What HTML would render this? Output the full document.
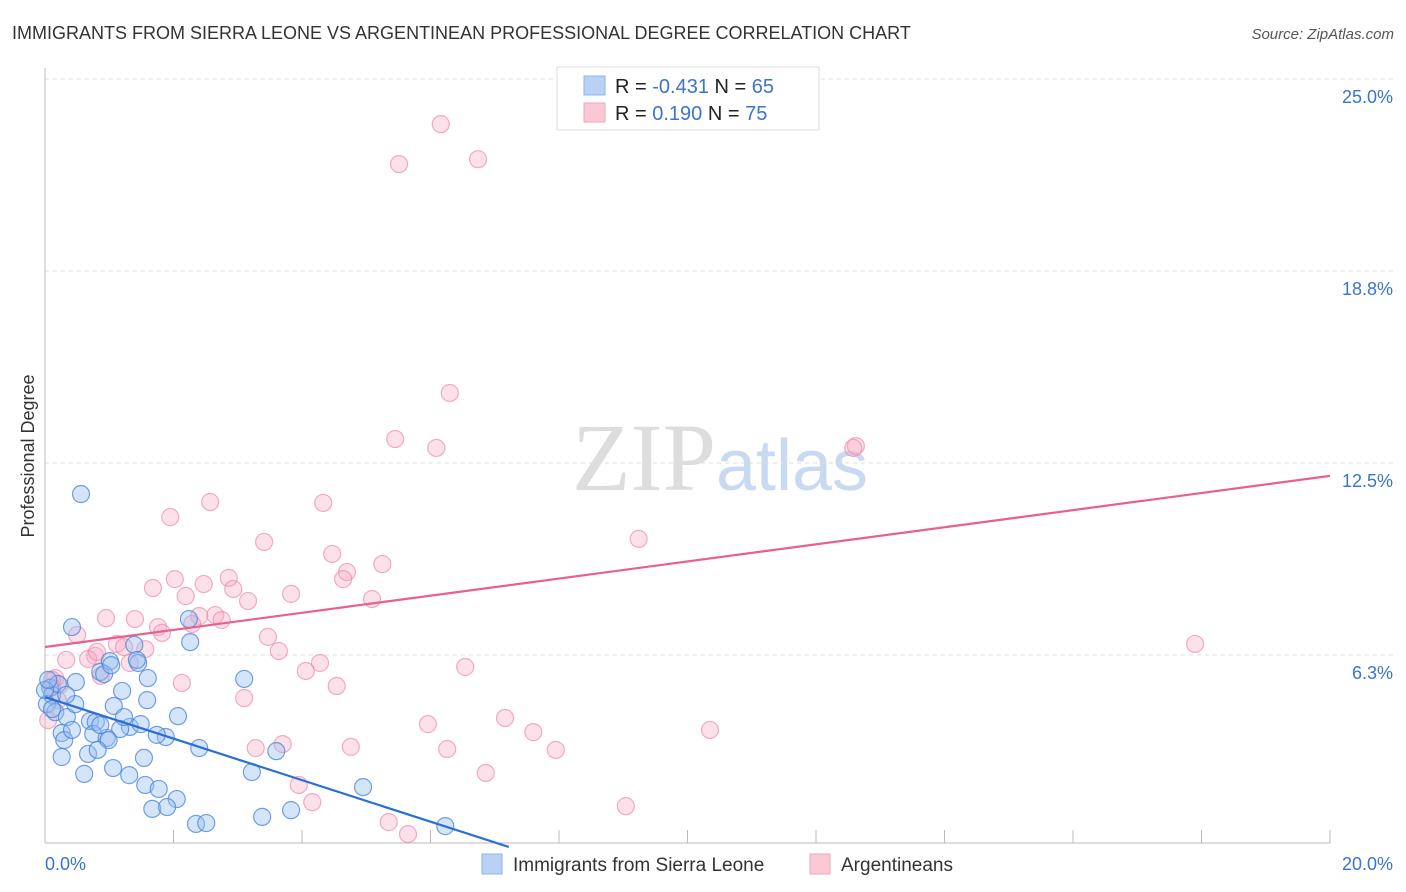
<!DOCTYPE html>
<html><head><meta charset="utf-8"><style>
body{margin:0;background:#fff;font-family:"Liberation Sans",sans-serif}
svg{display:block}
</style></head><body>
<svg id="chart" width="1406" height="892">
<text x="12" y="39" font-size="18" fill="#333">IMMIGRANTS FROM SIERRA LEONE VS ARGENTINEAN PROFESSIONAL DEGREE CORRELATION CHART</text>
<text x="1394" y="39" font-size="15" fill="#555" font-style="italic" text-anchor="end">Source: ZipAtlas.com</text>
<text x="720" y="490" font-size="96" fill="#ddd" text-anchor="middle" font-family="Liberation Serif">ZIP<tspan fill="#c8daf2" font-family="Liberation Sans" font-size="72">atlas</tspan></text>
<text transform="translate(34,456) rotate(-90)" font-size="18" fill="#333" text-anchor="middle">Professional Degree</text>
<g id="grid"></g><g id="axes"></g><g id="pts"></g><g id="lines"></g>
<g>
<rect x="557" y="67" width="262" height="63" fill="#fff" stroke="#ddd"/>
<rect x="584" y="76" width="21" height="19" fill="#b8d2f6" stroke="#8ab4ec"/>
<rect x="584" y="103" width="21" height="19" fill="#fbc8d6" stroke="#f2a4bc"/>
<text x="615" y="93" font-size="20" fill="#222">R = <tspan fill="#3a74d0">-0.431</tspan>   N = <tspan fill="#3a74d0">65</tspan></text>
<text x="615" y="120" font-size="20" fill="#222">R =   <tspan fill="#3a74d0">0.190</tspan>   N = <tspan fill="#3a74d0">75</tspan></text>
</g>
<g>
<rect x="482" y="854" width="20" height="20" fill="#b8d2f6" stroke="#8ab4ec"/>
<text x="513" y="871" font-size="19" fill="#333">Immigrants from Sierra Leone</text>
<rect x="810" y="854" width="20" height="20" fill="#fbc8d6" stroke="#f2a4bc"/>
<text x="841" y="871" font-size="19" fill="#333">Argentineans</text>
</g>
</svg>
<script>
const yTicks=[25.0,18.8,12.5,6.3];
const yTickVals=[25,18.75,12.5,6.25];
const xTickLabels=["0.0%","20.0%"];
const blueX=[0.56,0.42,0.08,0.11,0.20,0.03,0.16,0.48,0.34,0.26,0.30,0.70,0.79,0.75,0.86,1.01,0.92,1.20,1.07,1.39,1.45,1.60,1.59,1.32,1.17,0.96,0.99,1.49,1.88,2.07,2.24,2.26,2.40,3.10,3.60,0.26,0.67,0.82,0.61,1.06,1.31,1.54,1.56,1.77,2.05,1.67,1.90,2.35,2.51,3.38,3.83,3.22,4.95,6.23,0.00,0.05,0.11,0.47,1.03,1.43,0.86,0.42,1.23,0.33,1.74];
const blueY=[11.49,7.16,5.18,4.95,5.31,4.65,4.39,5.37,4.23,3.71,3.48,4.10,4.07,3.68,5.70,6.05,5.63,5.08,4.59,6.58,5.99,5.50,4.78,3.91,3.84,3.55,3.48,4.00,3.58,4.26,7.42,6.67,3.22,5.47,3.12,2.93,3.03,3.16,2.38,2.57,2.34,2.90,2.02,1.89,1.56,1.24,1.30,0.75,0.78,0.98,1.20,2.44,1.95,0.68,5.11,5.44,4.49,4.65,5.92,6.09,3.97,3.81,4.23,4.95,3.65];
const pinkX=[6.16,6.74,5.51,6.30,5.45,6.09,12.62,12.58,17.90,1.95,2.57,4.33,3.41,9.24,4.47,5.25,4.70,4.64,2.02,1.68,2.86,2.47,2.93,2.19,3.16,3.83,5.09,0.95,1.40,2.40,2.65,2.75,1.76,1.82,2.29,0.50,1.12,1.23,1.56,3.47,3.64,4.28,4.06,4.54,2.13,3.10,6.54,0.33,0.78,0.67,0.87,0.16,0.23,0.11,0.05,5.96,7.16,7.60,10.35,6.26,7.95,3.28,3.70,4.76,6.86,3.95,4.16,5.35,5.65,9.04,0.81,1.32,8.17,0.11,0.20];
const pinkY=[23.53,22.39,22.23,14.78,13.28,12.99,13.05,12.99,6.61,10.74,11.23,11.20,9.93,10.03,9.54,9.21,8.95,8.72,8.72,8.43,8.76,8.56,8.40,8.17,8.01,8.24,8.07,7.45,7.42,7.52,7.55,7.39,7.16,6.97,7.26,6.90,6.61,6.51,6.44,6.84,6.38,5.99,5.73,5.24,5.34,4.85,5.86,6.09,6.22,6.12,5.57,5.50,5.27,5.44,4.13,4.00,4.20,3.74,3.81,3.19,3.16,3.22,3.35,3.26,2.41,2.02,1.46,0.81,0.42,1.33,6.35,5.99,24.71,5.21,4.78];
const blueTrend=[4.88,-0.676];
const pinkTrend=[6.51,0.2785];
const NS="http://www.w3.org/2000/svg";
const X0=45,X1=1330,Y0=847,Y1=79;
const sx=v=>X0+v/20*(X1-X0);
const sy=v=>Y0-v/25*(Y0-Y1);
function mk(tag,attrs,parent){const e=document.createElementNS(NS,tag);for(const k in attrs)e.setAttribute(k,attrs[k]);parent.appendChild(e);return e;}
const grid=document.getElementById('grid'),axes=document.getElementById('axes'),pts=document.getElementById('pts'),lines=document.getElementById('lines');
yTickVals.forEach((v,i)=>{
 const l=mk('line',{x1:X0,x2:1394,y1:sy(v),y2:sy(v),stroke:'#ddd','stroke-dasharray':'4,4'},grid);
 
 
 const t=mk('text',{x:1393,y:sy(v)+24,'font-size':18,fill:'#3a74d0','text-anchor':'end'},axes);
 t.textContent=yTicks[i].toFixed(1)+'%';
 
 
});
let a=mk('line',{x1:X0,x2:X0,y1:68,y2:843,stroke:'#bbb'},axes);


a=mk('line',{x1:X0,x2:X1,y1:843,y2:843,stroke:'#bbb'},axes);


for(let k=1;k<=10;k++){
 const tk=mk('line',{x1:sx(k*2),x2:sx(k*2),y1:830,y2:843,stroke:'#bbb'},axes);
 
 
}
[[0,'start',45],[20,'end',1393]].forEach((d,i)=>{
 const t=mk('text',{x:d[2],y:870,'font-size':18,fill:'#3a74d0','text-anchor':d[1]},axes);
 t.textContent=xTickLabels[i];
 
 
});
function drawPts(xs,ys,fill,stroke,name){
 xs.forEach((x,i)=>{
  const c=mk('circle',{cx:sx(x),cy:sy(ys[i]),r:8.5,fill:fill,stroke:stroke,'stroke-width':1.2},pts);
  
  
 });
}
drawPts(pinkX,pinkY,'rgba(248,170,195,0.35)','rgba(236,140,170,0.7)','argentinean-point');
drawPts(blueX,blueY,'rgba(150,190,240,0.4)','rgba(70,130,220,0.75)','sierra-leone-point');
let bx1=-blueTrend[0]/blueTrend[1];
let l=mk('line',{x1:sx(0),y1:sy(blueTrend[0]),x2:sx(bx1),y2:sy(0),stroke:'#2a6fd6','stroke-width':2.2},lines);


l=mk('line',{x1:sx(0),y1:sy(pinkTrend[0]),x2:sx(20),y2:sy(pinkTrend[0]+pinkTrend[1]*20),stroke:'#e8608c','stroke-width':2.2},lines);


</script>
</body></html>
